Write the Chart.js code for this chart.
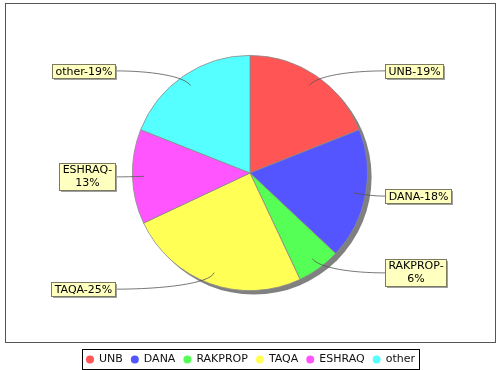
<!DOCTYPE html>
<html>
<head>
<meta charset="utf-8">
<script src="https://cdn.jsdelivr.net/npm/chart.js@4/dist/chart.umd.min.js"></script>
<style>
  html, body { margin: 0; padding: 0; background: #fff; }
  #wrap { width: 500px; height: 370px; position: relative; }
</style>
</head>
<body>
<div id="wrap"><canvas id="chart"></canvas></div>
<script>
const categories = ['UNB', 'DANA', 'RAKPROP', 'TAQA', 'ESHRAQ', 'other'];
const shares = [19, 18, 6, 25, 13, 19];
const sliceColors = ['#ff5555', '#5555ff', '#55ff55', '#ffff55', '#ff55ff', '#55ffff'];

const FONT = '11px "DejaVu Sans", sans-serif';

// grey drop shadow behind the pie
const pieShadow = {
    id: 'pieShadow',
    beforeDatasetsDraw(chart) {
        const arc = chart.getDatasetMeta(0).data[0];
        if (!arc) return;
        const ctx = chart.ctx;
        ctx.save();
        ctx.fillStyle = '#808080';
        ctx.beginPath();
        ctx.arc(arc.x + 4, arc.y + 4, arc.outerRadius, 0, Math.PI * 2);
        ctx.fill();
        ctx.restore();
    }
};

// jfreechart-like labels with curved link lines
const sliceLabels = {
    id: 'sliceLabels',
    afterDatasetsDraw(chart) {
        const ctx = chart.ctx;
        const arcs = chart.getDatasetMeta(0).data;
        ctx.save();
        ctx.font = FONT;
        arcs.forEach((arc, i) => {
            const mid = (arc.startAngle + arc.endAngle) / 2;
            const R = arc.outerRadius;
            const cx = arc.x, cy = arc.y;
            const right = Math.cos(mid) >= 0;

            let text = categories[i] + '-' + shares[i] + '%';
            let lines = [text];
            if (ctx.measureText(text).width > 66) {
                lines = [categories[i] + '-', shares[i] + '%'];
            }
            const tw = Math.max(...lines.map(l => ctx.measureText(l).width));
            const bw = Math.round(tw + 6);
            const bh = lines.length === 1 ? 14 : 27;
            const ly = cy + 1.05 * R * Math.sin(mid);
            const bx = right ? cx + 135 : cx - 135 - bw;
            const by = Math.round(ly - bh / 2);
            const edgeX = right ? bx : bx + bw;

            // link curve
            const ax = cx + 0.9 * R * Math.cos(mid);
            const ay = cy + 0.9 * R * Math.sin(mid);
            const ex = cx + 1.0 * R * Math.cos(mid);
            const ey = cy + 1.0 * R * Math.sin(mid);
            const c2x = (ex + edgeX) / 2;
            ctx.strokeStyle = '#555555';
            ctx.lineWidth = 0.8;
            ctx.beginPath();
            ctx.moveTo(ax, ay);
            ctx.bezierCurveTo(ex, ey, c2x, ly, edgeX, ly);
            ctx.stroke();

            // label box with shadow
            ctx.fillStyle = '#a0a0a0';
            ctx.fillRect(bx + 2, by + 2, bw, bh);
            ctx.fillStyle = '#ffffc0';
            ctx.fillRect(bx, by, bw, bh);
            ctx.strokeStyle = '#7a7a60';
            ctx.lineWidth = 1;
            ctx.strokeRect(bx + 0.5, by + 0.5, bw, bh);

            ctx.fillStyle = '#000';
            ctx.textAlign = 'center';
            ctx.textBaseline = 'middle';
            lines.forEach((l, k) => {
                const y = lines.length === 1 ? by + bh / 2 + 1 : by + 7.5 + k * 12.5;
                ctx.fillText(l, bx + bw / 2 + 0.5, y);
            });
        });
        ctx.restore();
    }
};

// plot border and boxed legend at the bottom
const frameAndLegend = {
    id: 'frameAndLegend',
    afterDraw(chart) {
        const ctx = chart.ctx;
        ctx.save();
        ctx.strokeStyle = '#555555';
        ctx.lineWidth = 1;
        ctx.strokeRect(5.5, 3.5, 490, 339);

        ctx.font = FONT;
        const widths = categories.map(c => ctx.measureText(c).width);
        const dot = 8, gap = 5, sep = 8, pad = 4;
        let total = pad * 2 + sep * (categories.length - 1);
        widths.forEach(w => total += dot + gap + w);
        total = Math.round(total);
        const left = Math.round(250 - total / 2);
        const top = 349, h = 20;
        ctx.fillStyle = '#fff';
        ctx.fillRect(left, top, total, h);
        ctx.strokeStyle = '#000';
        ctx.strokeRect(left + 0.5, top + 0.5, total, h);

        let x = left + pad;
        const yc = top + h / 2 + 0.5;
        categories.forEach((c, i) => {
            ctx.fillStyle = sliceColors[i];
            ctx.beginPath();
            ctx.arc(x + dot / 2, yc, dot / 2, 0, Math.PI * 2);
            ctx.fill();
            x += dot + gap;
            ctx.fillStyle = '#111';
            ctx.textAlign = 'left';
            ctx.textBaseline = 'middle';
            ctx.fillText(c, x, yc);
            x += widths[i] + sep;
        });
        ctx.restore();
    }
};

document.addEventListener('DOMContentLoaded', () => {
    const ctx = document.getElementById('chart').getContext('2d');
    new Chart(ctx, {
        type: 'pie',
        data: {
            labels: categories,
            datasets: [{
                data: shares,
                backgroundColor: sliceColors,
                borderColor: '#8a8a8a',
                borderWidth: 0.8
            }]
        },
        options: {
            responsive: true,
            maintainAspectRatio: false,
            animation: false,
            layout: {
                padding: { top: 55, bottom: 79, left: 132, right: 132 }
            },
            plugins: {
                legend: { display: false },
                tooltip: { enabled: false }
            }
        },
        plugins: [pieShadow, sliceLabels, frameAndLegend]
    });
});
</script>
</body>
</html>
